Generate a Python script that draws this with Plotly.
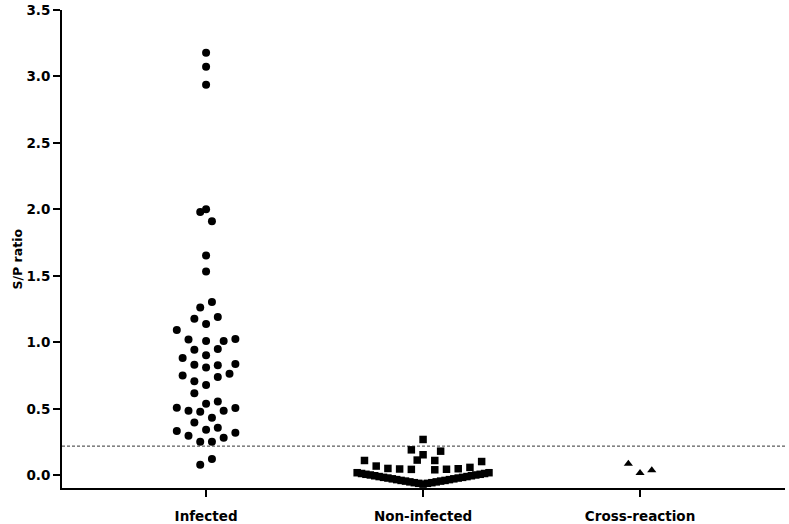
import plotly.graph_objects as go

# ---------------- data ----------------
categories = ["Infected", "Non-infected", "Cross-reaction"]

# beeswarm lane index (horizontal slot) and S/P ratio of each animal
infected_lanes = [0, 0, 0,
                  -1, 0, 1,
                  0, 0,
                  1, -1, -2, 2, 0, -5,
                  -3, 0, 3, 5,
                  -2, 2, 0, -4,
                  -2, 0, 2, 5,
                  -4, -2, 0, 2, 4,
                  -2,
                  -5, -3, -1, 0, 2, 3, 5,
                  1, -2,
                  -5, -3, 0, 2, 3, 5,
                  -1, 1,
                  1, -1]
infected_values = [3.179, 3.074, 2.937,
                   1.981, 2.002, 1.911,
                   1.653, 1.533,
                   1.303, 1.262, 1.177, 1.192, 1.138, 1.093,
                   1.021, 1.011, 1.011, 1.026,
                   0.944, 0.951, 0.904, 0.882,
                   0.832, 0.812, 0.829, 0.837,
                   0.752, 0.707, 0.679, 0.739, 0.764,
                   0.617,
                   0.508, 0.486, 0.478, 0.538, 0.556, 0.486, 0.506,
                   0.433, 0.398,
                   0.333, 0.298, 0.343, 0.358, 0.283, 0.321,
                   0.253, 0.253,
                   0.124, 0.079]

noninfected_lanes = [0, -2, 3, 0, -1, 2, -10, 10, -8, -6, -4, -2, 2, 4, 6, 8,
                     -11.25, -10.5, -9.75, -9.0, -8.25, -7.5, -6.75, -6.0,
                     -5.25, -4.5, -3.75, -3.0, -2.25, -1.5, -0.75, 0.0,
                     0.75, 1.5, 2.25, 3.0, 3.75, 4.5, 5.25, 6.0,
                     6.75, 7.5, 8.25, 9.0, 9.75, 10.5, 11.25]
noninfected_values = [0.270, 0.192, 0.182, 0.155, 0.115, 0.112, 0.112, 0.104,
                      0.070, 0.052, 0.048, 0.045, 0.042, 0.046, 0.050, 0.060,
                      0.020, 0.014, 0.008, 0.003, -0.003, -0.009, -0.015, -0.020,
                      -0.026, -0.032, -0.038, -0.043, -0.049, -0.055, -0.060, -0.066,
                      -0.060, -0.055, -0.049, -0.043, -0.038, -0.032, -0.026, -0.020,
                      -0.015, -0.009, -0.003, 0.003, 0.008, 0.014, 0.020]

cross_lanes = [-2, 0, 2]
cross_values = [0.088, 0.018, 0.038]

cutoff = 0.22
y_ticks = [0.0, 0.5, 1.0, 1.5, 2.0, 2.5, 3.0, 3.5]
y_title = "S/P ratio"

# ---------------- layout helpers ----------------
LANE = 0.027  # width of one beeswarm slot in category units
FONT = "DejaVu Sans"


def xs(group, lanes):
    return [group + l * LANE for l in lanes]


fig = go.Figure()
fig.add_trace(go.Scatter(
    x=xs(0, infected_lanes), y=infected_values, mode="markers",
    marker=dict(symbol="circle", size=8, color="black", line=dict(width=0)),
    name=categories[0], showlegend=False, hoverinfo="y"))
fig.add_trace(go.Scatter(
    x=xs(1, noninfected_lanes), y=noninfected_values, mode="markers",
    marker=dict(symbol="square", size=7.5, color="black", line=dict(width=0)),
    name=categories[1], showlegend=False, hoverinfo="y"))
fig.add_trace(go.Scatter(
    x=xs(2, cross_lanes), y=cross_values, mode="markers",
    marker=dict(symbol="triangle-up", size=8, color="black", line=dict(width=0)),
    name=categories[2], showlegend=False, hoverinfo="y"))

fig.add_shape(type="line", xref="paper", x0=0, x1=1, yref="y", y0=cutoff, y1=cutoff,
              line=dict(color="#333333", width=1, dash="3px,2px"), layer="below")

# y-axis title as a rotated annotation so it can sit exactly where the reference has it
fig.add_annotation(
    text=y_title, textangle=-90, showarrow=False,
    xref="paper", yref="paper", x=-0.061, y=0.48,
    xanchor="center", yanchor="middle",
    font=dict(family=FONT, size=12.5, color="black", weight="bold"),
)

fig.update_layout(
    width=789, height=524,
    margin=dict(l=62, r=4, t=10, b=36, autoexpand=False),
    paper_bgcolor="white", plot_bgcolor="white",
    font=dict(family=FONT, size=13, color="black"),
    showlegend=False,
)
fig.update_xaxes(
    range=[-0.664, 2.668], tickvals=[0, 1, 2], ticktext=categories,
    showgrid=False, zeroline=False,
    showline=True, linecolor="black", linewidth=2,
    ticks="outside", ticklen=7, tickwidth=1.5, tickcolor="black",
    tickfont=dict(family=FONT, size=13.5, color="black", weight="bold"),
    ticklabelstandoff=8,
)
fig.update_yaxes(
    range=[-0.095, 3.5], tickvals=y_ticks,
    ticktext=[f"{v:.1f}" for v in y_ticks],
    showgrid=False, zeroline=False,
    showline=True, linecolor="black", linewidth=2,
    ticks="outside", ticklen=7, tickwidth=1.5, tickcolor="black",
    tickfont=dict(family=FONT, size=13.5, color="black", weight="bold"),
)

fig.write_html(
    "out.html",
    config={"displayModeBar": False},
    post_script="document.body.style.margin='0';document.body.style.overflow='hidden';",
)
